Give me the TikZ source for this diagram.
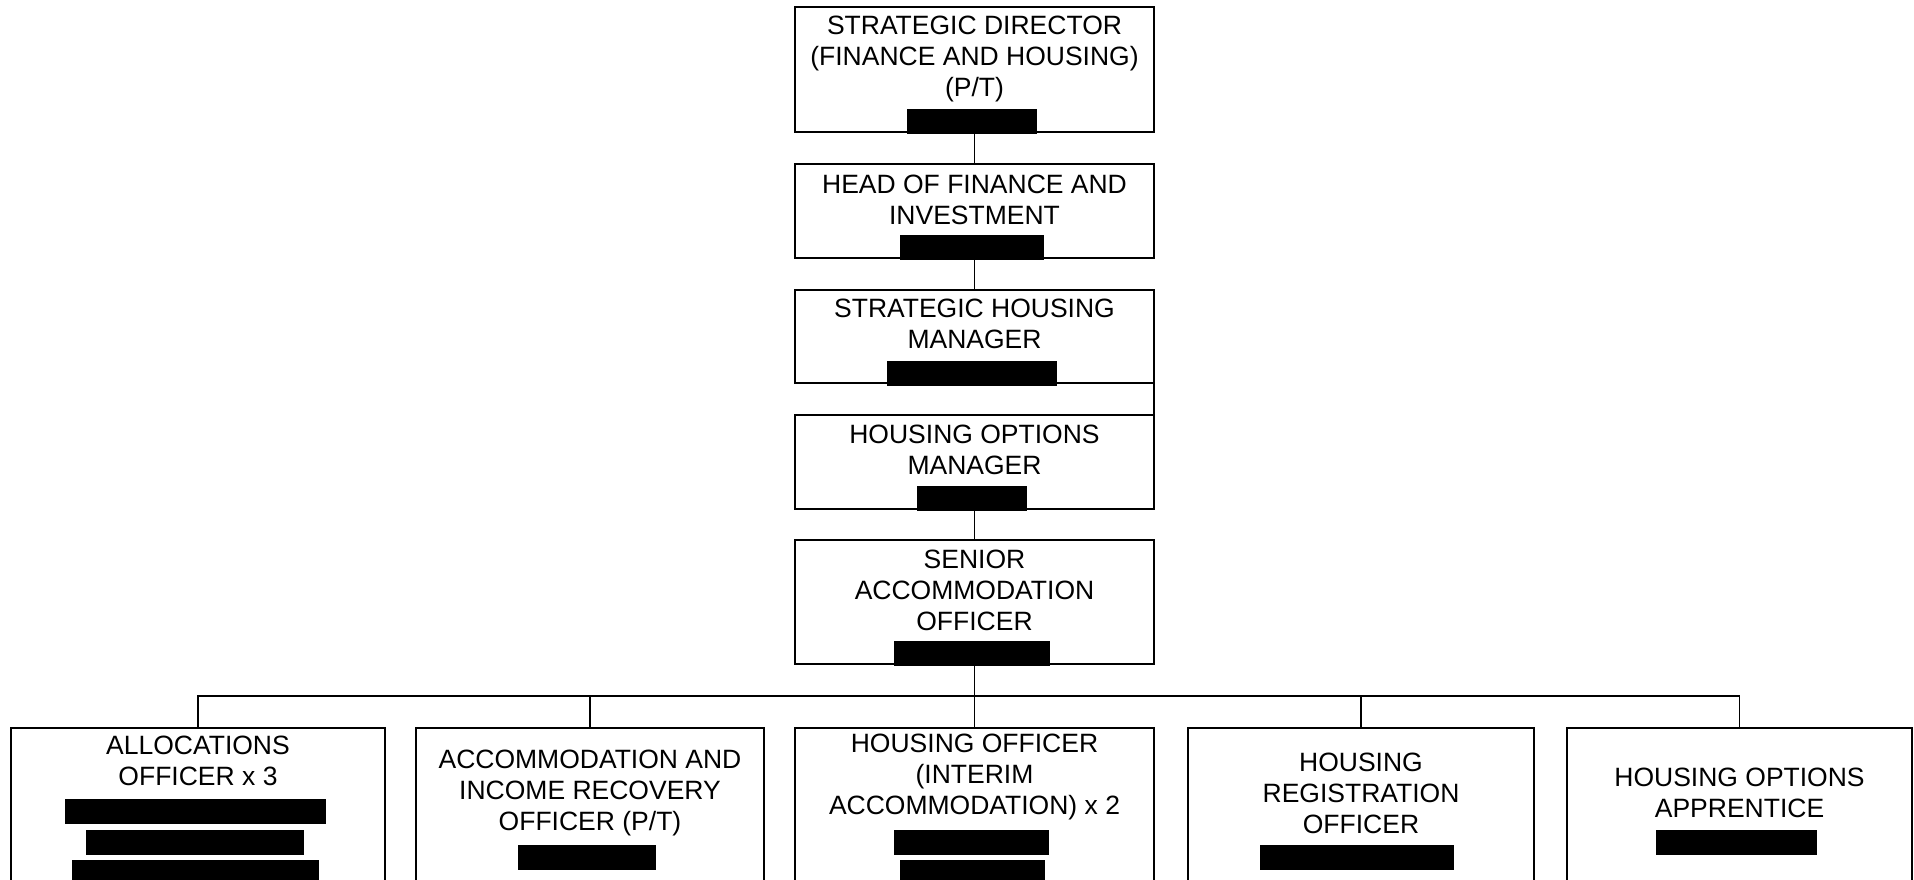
\documentclass[tikz,border=0pt]{standalone}
\usepackage{fontspec}
\setmainfont{Liberation Sans}
\begin{document}
\begin{tikzpicture}[x=1pt,y=-1pt,
  orgbox/.style={draw=black, line width=1.8pt, fill=white, rectangle, inner sep=0pt, outer sep=0pt},
  redact/.style={fill=black, draw=none, rectangle, inner sep=0pt, minimum height=25pt},
  lbl/.style={align=center, inner sep=0pt, font=\fontsize{26.5}{31}\selectfont},
  link/.style={draw=black, line width=1.6pt}]
\useasboundingbox (0,0) rectangle (1914,880);
\clip (0,0) rectangle (1914,880);
\fill[white] (0,0) rectangle (1914,880);

% management chain
\node[orgbox, minimum width=359pt, minimum height=125pt] (b1) at (974.5,69.5) {};
\node[orgbox, minimum width=359pt, minimum height=94pt]  (b2) at (974.5,211) {};
\node[orgbox, minimum width=359pt, minimum height=93pt]  (b3) at (974.5,336.5) {};
\node[orgbox, minimum width=359pt, minimum height=94pt]  (b4) at (974.5,462) {};
\node[orgbox, minimum width=359pt, minimum height=124pt] (b5) at (974.5,602) {};

% team posts
\node[orgbox, minimum width=374pt, minimum height=172pt] (pa) at (198,814) {};
\node[orgbox, minimum width=348pt, minimum height=172pt] (pb) at (590,814) {};
\node[orgbox, minimum width=359pt, minimum height=172pt] (pc) at (974.5,814) {};
\node[orgbox, minimum width=346pt, minimum height=172pt] (pd) at (1361,814) {};
\node[orgbox, minimum width=345pt, minimum height=172pt] (pe) at (1739.5,814) {};

% reporting lines
\coordinate (bus) at (974.5,696);
\draw[link] (b1.south) -- (b2.north);
\draw[link] (b2.south) -- (b3.north);
\draw[link] (b3.south east) -- (b4.north east);
\draw[link] (b4.south) -- (b5.north);
\draw[link] (b5.south) -- (bus);
\draw[link] (pa.north) -- (pa.north |- bus) -- (pe.north |- bus) -- (pe.north);
\draw[link] (pb.north) -- (pb.north |- bus);
\draw[link] (pc.north) -- (pc.north |- bus);
\draw[link] (pd.north) -- (pd.north |- bus);

% titles
\node[lbl] (t1) at (974.5,58.5) {STRATEGIC DIRECTOR\\(FINANCE AND HOUSING)\\(P/T)};
\node[lbl] (t2) at (974.5,199.5) {HEAD OF FINANCE AND\\INVESTMENT};
\node[lbl] (t3) at (974.5,324) {STRATEGIC HOUSING\\MANAGER};
\node[lbl] (t4) at (974.5,450) {HOUSING OPTIONS\\MANAGER};
\node[lbl] (t5) at (974.5,590.5) {SENIOR\\ACCOMMODATION\\OFFICER};
\node[lbl] (ta) at (198,761) {ALLOCATIONS\\OFFICER x 3};
\node[lbl] (tb) at (590,793) {ACCOMMODATION AND\\INCOME RECOVERY\\OFFICER (P/T)};
\node[lbl] (tc) at (974.5,777) {HOUSING OFFICER\\(INTERIM\\ACCOMMODATION) x 2};
\node[lbl] (td) at (1361,793) {HOUSING\\REGISTRATION\\OFFICER};
\node[lbl] (te) at (1739.5,793) {HOUSING OPTIONS\\APPRENTICE};

% redacted names
\node[redact, minimum width=130pt] (r1) at (972,122) {};
\node[redact, minimum width=144pt] (r2) at (972,247.5) {};
\node[redact, minimum width=170pt] (r3) at (972,373.5) {};
\node[redact, minimum width=110pt] (r4) at (972,498.5) {};
\node[redact, minimum width=156pt] (r5) at (972,653.5) {};
\node[redact, minimum width=261pt] (ra1) at (195.5,811.5) {};
\node[redact, minimum width=218pt] (ra2) at (195,842.5) {};
\node[redact, minimum width=247pt] (ra3) at (195.5,872.5) {};
\node[redact, minimum width=138pt] (rb) at (587,857.5) {};
\node[redact, minimum width=155pt] (rc1) at (971.5,842.5) {};
\node[redact, minimum width=145pt] (rc2) at (972.5,872.5) {};
\node[redact, minimum width=194pt] (rd) at (1357,857.5) {};
\node[redact, minimum width=161pt] (re) at (1736,842.5) {};
\end{tikzpicture}
\end{document}
